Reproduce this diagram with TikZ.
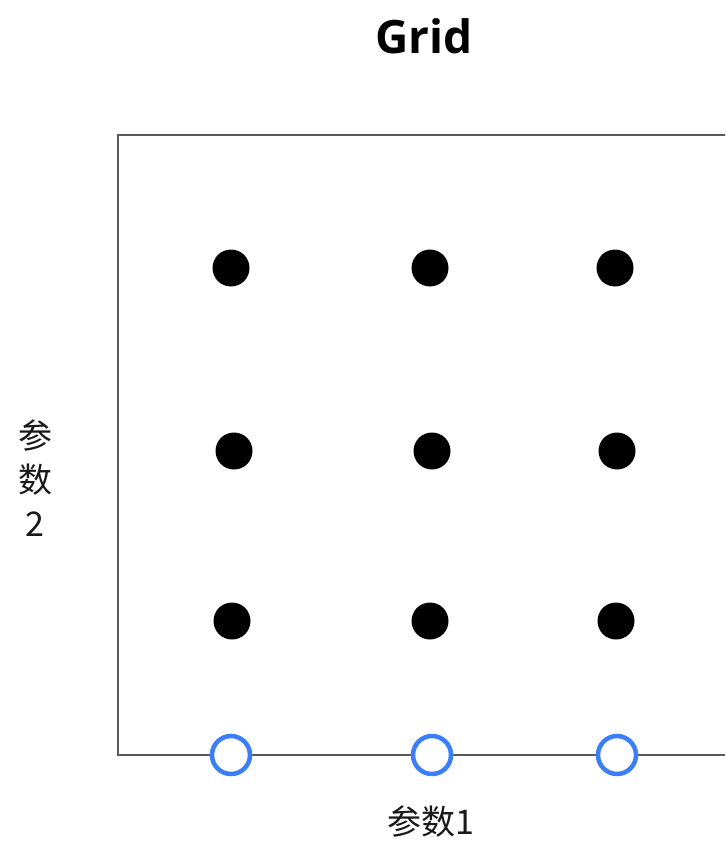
\documentclass[tikz,border=0pt]{standalone}
\usepackage{fontspec}
\setmainfont{Open Sans}
\newfontfamily\cjk{Noto Sans CJK SC}
\definecolor{frame}{HTML}{5A5A5A}
\definecolor{cand}{HTML}{3A7EFA}
\begin{document}
\begin{tikzpicture}[x=1pt,y=-1pt,
  dot/.style={circle,fill=black,inner sep=0pt,minimum size=37pt},
  cand/.style={circle,draw=cand,line width=4.5pt,fill=white,inner sep=0pt,minimum size=38pt},
  lbl/.style={font=\cjk\fontsize{34}{44}\selectfont,text=black!90,inner sep=0pt}]
\useasboundingbox (0,0) rectangle (725,842);
\clip (0,0) rectangle (725,842);
\node[font=\bfseries\fontsize{46}{50}\selectfont,inner sep=0pt] (title) at (424,36) {Grid};
\draw[frame,line width=2.2pt] (760,135) -- (118,135) -- (118,755) -- (760,755);
\node[dot] (a1) at (231,268) {};
\node[dot] (a2) at (430,268) {};
\node[dot] (a3) at (615,268) {};
\node[dot] (b1) at (234,451) {};
\node[dot] (b2) at (432,451) {};
\node[dot] (b3) at (617,451) {};
\node[dot] (c1) at (232,621) {};
\node[dot] (c2) at (430,621) {};
\node[dot] (c3) at (616,621) {};
\node[cand] (p1) at (231,755) {};
\node[cand] (p2) at (432,755) {};
\node[cand] (p3) at (617,755) {};
\node[lbl,align=center] (ylab) at (35,478) {参\\数\\2};
\node[lbl] (xlab) at (431,822) {参数1};
\end{tikzpicture}
\end{document}
